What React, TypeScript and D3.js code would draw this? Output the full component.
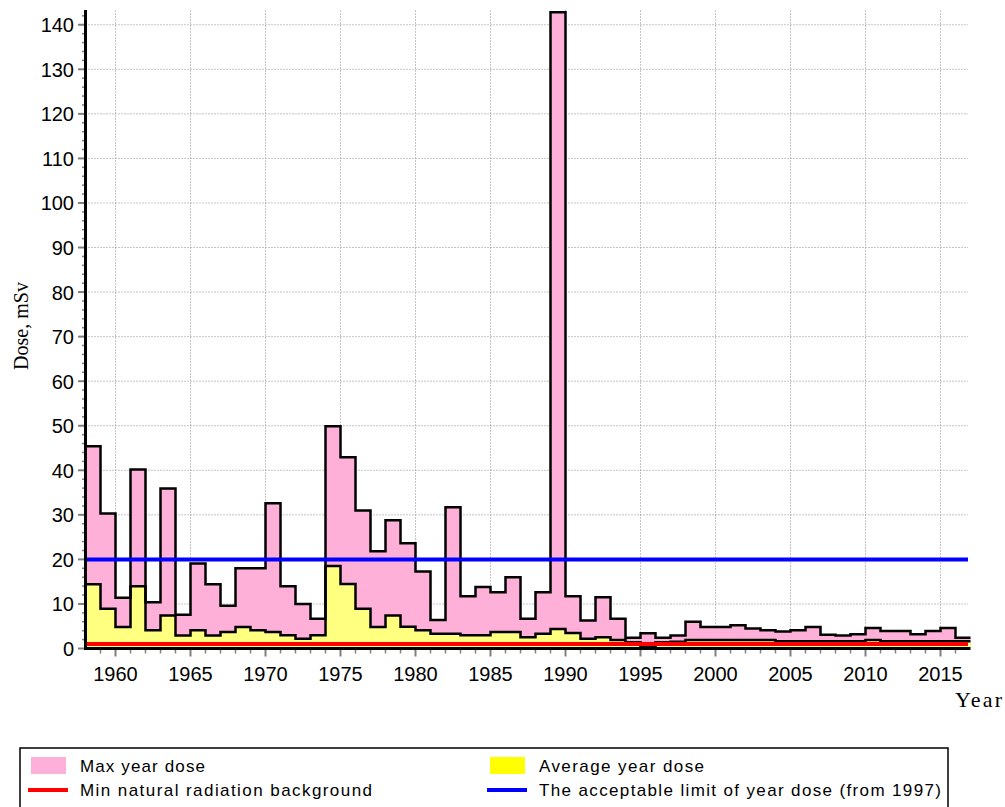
import * as d3 from "d3";

// years (one step per year, last step ends at 2017)
const years = [
  1958, 1959, 1960, 1961, 1962, 1963, 1964, 1965, 1966, 1967,
  1968, 1969, 1970, 1971, 1972, 1973, 1974, 1975, 1976, 1977,
  1978, 1979, 1980, 1981, 1982, 1983, 1984, 1985, 1986, 1987,
  1988, 1989, 1990, 1991, 1992, 1993, 1994, 1995, 1996, 1997,
  1998, 1999, 2000, 2001, 2002, 2003, 2004, 2005, 2006, 2007,
  2008, 2009, 2010, 2011, 2012, 2013, 2014, 2015, 2016,
];

const maxDose = [
  45.4, 30.3, 11.4, 40.2, 10.4, 35.9, 7.6, 19.1, 14.4, 9.6,
  18.0, 18.0, 32.6, 14.0, 10.0, 6.7, 49.9, 42.9, 31.0, 21.8,
  28.8, 23.6, 17.3, 6.4, 31.7, 11.7, 13.8, 12.6, 16.0, 6.7,
  12.6, 142.8, 11.7, 6.3, 11.5, 6.7, 2.4, 3.4, 2.4, 2.9,
  6.0, 4.8, 4.8, 5.2, 4.5, 4.1, 3.8, 4.1, 4.8, 3.1,
  2.9, 3.2, 4.6, 3.9, 3.9, 3.2, 3.9, 4.6, 2.4,
];

const avgDose = [
  14.4, 8.9, 4.8, 14.0, 4.1, 7.4, 2.9, 4.1, 2.9, 3.7,
  4.8, 4.1, 3.7, 3.0, 2.2, 3.0, 18.5, 14.5, 8.9, 4.8,
  7.4, 4.9, 4.1, 3.3, 3.3, 3.0, 3.0, 3.7, 3.7, 2.5,
  3.3, 4.4, 3.5, 2.2, 2.5, 1.9, 1.4, 0.6, 1.4, 1.5,
  1.9, 1.9, 1.9, 1.9, 1.9, 1.9, 1.6, 1.6, 1.6, 1.6,
  1.6, 1.6, 1.9, 1.6, 1.6, 1.6, 1.6, 1.6, 1.6,
];

const minBackground = 1.0;
const acceptableLimit = 20;

const yTickValues = [0, 10, 20, 30, 40, 50, 60, 70, 80, 90, 100, 110, 120, 130, 140];
const xTickValues = [1960, 1965, 1970, 1975, 1980, 1985, 1990, 1995, 2000, 2005, 2010, 2015];

const legendItems = [
  { label: "Max year dose", kind: "rect", color: "#ffb0d8" },
  { label: "Average year dose", kind: "rect", color: "#ffff00" },
  { label: "Min natural radiation background", kind: "line", color: "#ff0000" },
  { label: "The acceptable limit of year dose (from 1997)", kind: "line", color: "#0000ff" },
];

const SANS = "'Liberation Sans', Arial, sans-serif";
const SERIF = "'Liberation Serif', 'Times New Roman', serif";

export default function App() {
  const width = 1005;
  const height = 807;

  const x = d3.scaleLinear().domain([1958, 2017]).range([85.5, 970.5]);
  const y = d3.scaleLinear().domain([0, 143.2]).range([648.5, 10.5]);

  const toPoints = (vals: number[]) => {
    const pts = years.map((yr, i) => ({ yr, v: vals[i] }));
    pts.push({ yr: 2017, v: vals[vals.length - 1] });
    return pts;
  };
  const maxPts = toPoints(maxDose);
  const avgPts = toPoints(avgDose);

  const area = d3
    .area<{ yr: number; v: number }>()
    .x((d) => x(d.yr))
    .y0(y(0))
    .y1((d) => y(d.v))
    .curve(d3.curveStepAfter);
  const line = d3
    .line<{ yr: number; v: number }>()
    .x((d) => x(d.yr))
    .y((d) => y(d.v))
    .curve(d3.curveStepAfter);

  const xLeft = x(1958);
  const xRight = x(2017) - 2.5;
  const minorX = d3.range(1959, 2017).filter((v) => v % 5 !== 0);
  const minorY = d3.range(2, 143, 2).filter((v) => v % 10 !== 0);

  // legend column positions
  const legendCols = [31, 490];
  const legendRows = [765.5, 790];
  const legendTextLen = [125, 165, 292, 402];

  return (
    <svg
      width={width}
      height={height}
      style={{ position: "absolute", left: 0, top: 0, background: "#fff" }}
    >
      {/* grid */}
      <g stroke="#8c8c8c" strokeWidth={1} strokeDasharray="1,2">
        {yTickValues.slice(1).map((v) => (
          <line key={"gy" + v} x1={xLeft} x2={xRight} y1={y(v)} y2={y(v)} />
        ))}
        {xTickValues.map((v) => (
          <line key={"gx" + v} x1={x(v)} x2={x(v)} y1={10.5} y2={y(0)} />
        ))}
      </g>

      {/* areas */}
      <path d={area(maxPts) || ""} fill="#ffb0d8" />
      <path d={area(avgPts) || ""} fill="#ffff80" />
      <path d={line(maxPts) || ""} fill="none" stroke="#000" strokeWidth={2.5} />
      <path d={line(avgPts) || ""} fill="none" stroke="#000" strokeWidth={2.5} />

      {/* reference lines */}
      <line
        x1={xLeft}
        x2={xRight}
        y1={y(acceptableLimit)}
        y2={y(acceptableLimit)}
        stroke="#0000ff"
        strokeWidth={4}
      />
      <line
        x1={xLeft}
        x2={xRight}
        y1={y(minBackground)}
        y2={y(minBackground)}
        stroke="#ff0000"
        strokeWidth={4}
      />

      {/* ticks */}
      <g stroke="#808080">
        {yTickValues.map((v) => (
          <line key={"ty" + v} x1={78} x2={86} y1={y(v)} y2={y(v)} strokeWidth={2} />
        ))}
        {minorY.map((v) => (
          <line key={"my" + v} x1={82} x2={86} y1={y(v)} y2={y(v)} strokeWidth={1.5} />
        ))}
        {xTickValues.map((v) => (
          <line key={"tx" + v} x1={x(v)} x2={x(v)} y1={649} y2={656.5} strokeWidth={2} />
        ))}
        {minorX.map((v) => (
          <line key={"mx" + v} x1={x(v)} x2={x(v)} y1={649} y2={653.5} strokeWidth={1.5} />
        ))}
      </g>

      {/* axes */}
      <line x1={85.5} x2={85.5} y1={10} y2={650} stroke="#000" strokeWidth={3} />
      <line x1={84} x2={970.5} y1={648.5} y2={648.5} stroke="#000" strokeWidth={3} />

      {/* tick labels */}
      <g fontFamily={SANS} fontSize={20} fill="#000">
        {yTickValues.map((v) => (
          <text key={"ly" + v} x={74} y={y(v) + 7.5} textAnchor="end">
            {v}
          </text>
        ))}
        {xTickValues.map((v) => (
          <text key={"lx" + v} x={x(v)} y={681} textAnchor="middle">
            {v}
          </text>
        ))}
      </g>

      {/* axis titles */}
      <text
        transform="translate(28,326) rotate(-90)"
        textAnchor="middle"
        fontFamily={SERIF}
        fontSize={20}
      >
        Dose, mSv
      </text>
      <text x={955} y={707} fontFamily={SERIF} fontSize={22} textLength={47} lengthAdjust="spacing">
        Year
      </text>

      {/* legend */}
      <rect x={20} y={748} width={928} height={80} fill="#fff" stroke="#000" strokeWidth={1.5} />
      {legendItems.map((it, i) => {
        const col = i % 2;
        const row = Math.floor(i / 2);
        const sx = legendCols[col];
        const cy = legendRows[row];
        return (
          <g key={it.label}>
            {it.kind === "rect" ? (
              <rect x={sx} y={cy - 8.5} width={35} height={17} fill={it.color} />
            ) : (
              <line x1={sx - 3} x2={sx + 37} y1={cy} y2={cy} stroke={it.color} strokeWidth={4} />
            )}
            <text
              x={sx + 49}
              y={cy + 6}
              fontFamily={SANS}
              fontSize={17}
              textLength={legendTextLen[i]}
              lengthAdjust="spacing"
            >
              {it.label}
            </text>
          </g>
        );
      })}
    </svg>
  );
}
